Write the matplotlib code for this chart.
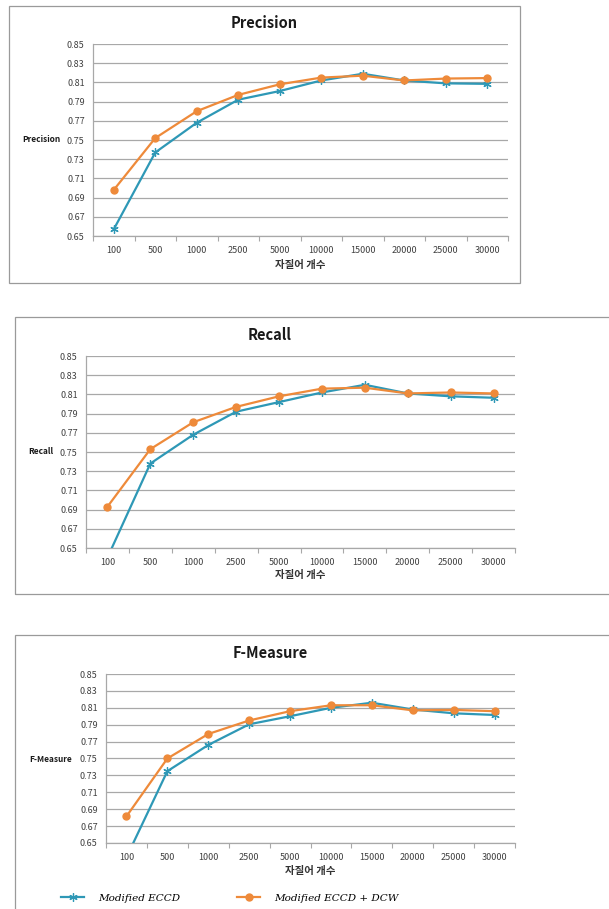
import matplotlib
matplotlib.use("Agg")
import matplotlib.pyplot as plt
from matplotlib.lines import Line2D
from matplotlib.patches import Rectangle
import numpy as np

plt.rcParams['font.family'] = ['Noto Sans CJK KR', 'DejaVu Sans']

categories = ["100", "500", "1000", "2500", "5000", "10000", "15000", "20000", "25000", "30000"]

precision_eccd = [0.657, 0.737, 0.768, 0.792, 0.801, 0.812, 0.819, 0.812, 0.809, 0.8085]
precision_dcw = [0.698, 0.752, 0.780, 0.797, 0.808, 0.815, 0.817, 0.812, 0.814, 0.8145]

recall_eccd = [0.640, 0.738, 0.768, 0.792, 0.802, 0.812, 0.820, 0.811, 0.808, 0.8065]
recall_dcw = [0.693, 0.753, 0.781, 0.797, 0.808, 0.816, 0.817, 0.811, 0.812, 0.811]

fmeasure_eccd = [0.633, 0.735, 0.766, 0.7905, 0.800, 0.810, 0.816, 0.808, 0.8035, 0.8015]
fmeasure_dcw = [0.6815, 0.750, 0.779, 0.795, 0.806, 0.813, 0.813, 0.807, 0.8075, 0.806]

y_ticks = [0.65, 0.67, 0.69, 0.71, 0.73, 0.75, 0.77, 0.79, 0.81, 0.83, 0.85]
xlabel = "자질어 개수"
legend_labels = ["Modified ECCD", "Modified ECCD + DCW"]

BLUE = '#2E98B6'
ORANGE = '#EE8A3A'
GRID = '#A8A8A8'

W, H = 609, 909
fig = plt.figure(figsize=(W / 100, H / 100), dpi=100)


def fx(x):
    return x / W


def fy(y):
    return 1 - y / H


def panel(box, ax_px, title, title_x, title_y, ylab, ylab_x, ylab_y, xlab_y, s1, s2):
    bx0, by0, bx1, by1 = box
    fig.patches.append(Rectangle((fx(bx0), fy(by1)), fx(bx1 - bx0), (by1 - by0) / H,
                                 transform=fig.transFigure, fill=False,
                                 edgecolor='#9A9A9A', lw=0.9, zorder=0))
    x0, y0, x1, y1 = ax_px
    ax = fig.add_axes([fx(x0), fy(y1), fx(x1 - x0), (y1 - y0) / H])
    xs = np.arange(len(categories))
    ax.plot(xs, s1, color=BLUE, lw=1.6, marker=(6, 2, 0), ms=6, mew=0.9, zorder=3)
    ax.plot(xs, s2, color=ORANGE, lw=1.6, marker='o', ms=5, zorder=4)
    ax.set_xlim(-0.5, len(categories) - 0.5)
    ax.set_ylim(0.65, 0.85)
    ax.set_yticks(y_ticks)
    ax.set_yticklabels([f"{v:.2f}" for v in y_ticks], fontsize=6.5, color='#404040')
    ax.set_xticks(xs)
    ax.set_xticklabels(categories, fontsize=6.5, color='#404040')
    ax.set_xticks(np.arange(-0.5, len(categories)), minor=True)
    ax.tick_params(axis='x', which='major', length=0, pad=7)
    ax.tick_params(axis='x', which='minor', length=3.5, color=GRID, width=0.8)
    ax.tick_params(axis='y', length=0, pad=6)
    ax.grid(axis='y', color=GRID, lw=0.9)
    ax.set_axisbelow(True)
    for s in ['top', 'right']:
        ax.spines[s].set_visible(False)
    for s in ['left', 'bottom']:
        ax.spines[s].set_color(GRID)
        ax.spines[s].set_linewidth(0.9)
    fig.text(fx(title_x), fy(title_y), title, fontsize=10.5, fontweight='bold',
             ha='center', va='center', color='#1A1A1A')
    fig.text(fx(ylab_x), fy(ylab_y), ylab, fontsize=6, fontweight='bold',
             ha='center', va='center', color='#1A1A1A')
    fig.text(fx((x0 + x1) / 2), fy(xlab_y), xlabel, fontsize=7.5, fontweight='bold',
             ha='center', va='center', color='#333333')
    return ax


panel((9, 6, 520, 283), (93, 44, 508, 236), "Precision", 264, 23,
      "Precision", 41, 140, 265, precision_eccd, precision_dcw)
panel((15, 317, 620, 594), (86, 356, 515, 548), "Recall", 270, 335,
      "Recall", 41, 451, 575, recall_eccd, recall_dcw)
panel((15, 635, 620, 930), (106, 674, 515, 843), "F-Measure", 270, 653,
      "F-Measure", 51, 759, 871, fmeasure_eccd, fmeasure_dcw)

handles = [Line2D([], [], color=BLUE, lw=1.6, marker=(6, 2, 0), ms=6, mew=0.9),
           Line2D([], [], color=ORANGE, lw=1.6, marker='o', ms=5)]
fig.legend(handles, legend_labels, loc='center left', bbox_to_anchor=(fx(52), fy(898)),
           ncol=2, frameon=False, handlelength=2.2, handletextpad=1.3, columnspacing=5.5,
           prop={'family': 'DejaVu Serif', 'style': 'italic', 'size': 7.5})

fig.savefig("out.png", dpi=100)
